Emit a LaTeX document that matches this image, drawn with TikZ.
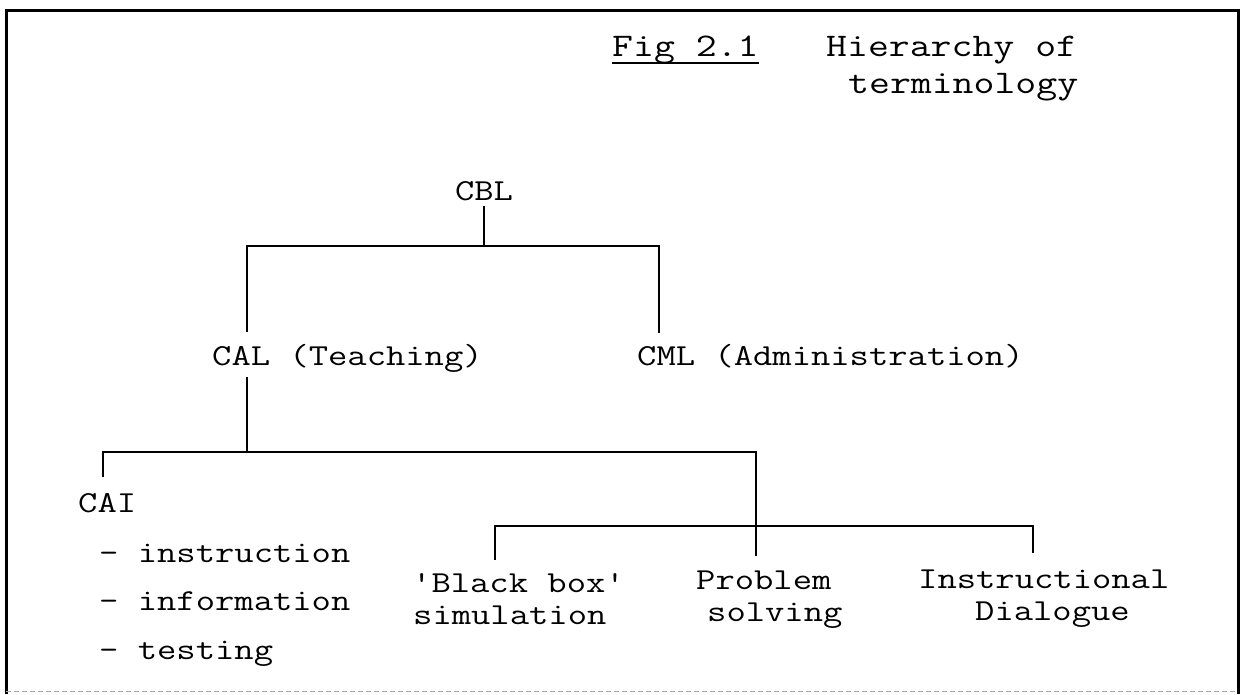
\documentclass[tikz,border=0pt]{standalone}
\usepackage{graphicx}
% typewritten text: Latin Modern Mono widened to a typewriter pitch
\newcommand{\typed}[1]{\scalebox{1.23}[1]{#1}}
\tikzset{
  txt/.style={anchor=base west, inner sep=0pt, font=\ttfamily\fontsize{30.5}{32}\selectfont},
  ctxt/.style={txt, anchor=base},
  ttl/.style={txt, font=\ttfamily\fontsize{33}{40}\selectfont},
  branch/.style={line width=2.2pt, line join=miter},
  frame/.style={line width=3pt},
}
\begin{document}
\begin{tikzpicture}[x=1pt, y=-1pt]
\useasboundingbox (0,0) rectangle (1244,694);

% outer frame
\draw[frame] (6,694) -- (6,10) -- (1238,10) -- (1238,694);
\draw[black!35, line width=0.8pt, dash pattern=on 5pt off 3pt] (6,691) -- (1238,691);

% title
\node[ttl] (fig)  at (612,56) {\typed{Fig 2.1}};
\node[ttl] (hier) at (826,56) {\typed{Hierarchy of}};
\node[ttl] (term) at (848,93) {\typed{terminology}};
\draw[line width=2.4pt] ([yshift=-7pt]fig.base west) -- ([yshift=-7pt]fig.base east);

% terms
\node[ctxt] (cbl) at (484,200) {\typed{CBL}};
\node[txt] (cal) at (212,365) {\typed{CAL (Teaching)}};
\node[txt] (cml) at (637,365) {\typed{CML (Administration)}};
\node[txt] (cai)  at (78,512) {\typed{CAI}};
\node[txt] (cai1) at (99,562) {\typed{- instruction}};
\node[txt] (cai2) at (99,610) {\typed{- information}};
\node[txt] (cai3) at (99,659) {\typed{- testing}};
\node[txt] (bb1) at (412,592) {\typed{\textquotesingle Black box\textquotesingle}};
\node[txt] (bb2) at (413,624) {\typed{simulation}};
\node[txt] (ps1) at (696,589) {\typed{Problem}};
\node[txt] (ps2) at (707,621) {\typed{solving}};
\node[txt] (id1) at (918,588) {\typed{Instructional}};
\node[txt] (id2) at (975,620) {\typed{Dialogue}};

% connector ends and junctions
\coordinate (cbl-out) at (484,206);
\coordinate (j1)  at (484,246);
\coordinate (j1l) at (247,246);
\coordinate (j1r) at (659,246);
\coordinate (cal-in)  at (247,332);
\coordinate (cml-in)  at (659,333);
\coordinate (cal-out) at (247,377);
\coordinate (j2)  at (247,452);
\coordinate (j2l) at (103,452);
\coordinate (j2r) at (756,452);
\coordinate (cai-in) at (103,477);
\coordinate (j3)  at (756,526);
\coordinate (j3l) at (495,526);
\coordinate (j3r) at (1033,526);
\coordinate (bb-in) at (495,560);
\coordinate (ps-in) at (756,556);
\coordinate (id-in) at (1033,553);

% CBL -> CAL / CML
\draw[branch] (cbl-out) -- (j1);
\draw[branch] (cal-in) -- (j1l) -- (j1r) -- (cml-in);
% CAL -> CAI / rest
\draw[branch] (cal-out) -- (j2);
\draw[branch] (cai-in) -- (j2l) -- (j2r) -- (j3) -- (ps-in);
% the three kinds of program
\draw[branch] (bb-in) -- (j3l) -- (j3r) -- (id-in);
\end{tikzpicture}
\end{document}
